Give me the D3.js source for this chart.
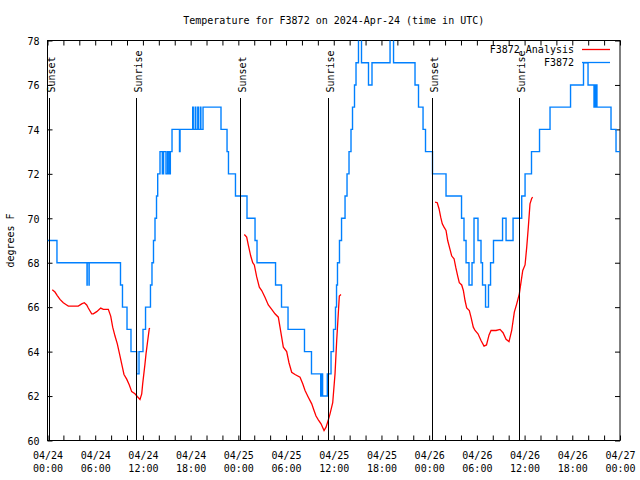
<!DOCTYPE html>
<html><head><meta charset="utf-8">
<script src="https://cdn.jsdelivr.net/npm/d3@7"></script>
<style>
body{margin:0;background:#fff}
svg text{font-family:"DejaVu Sans Mono","Liberation Mono",monospace;font-size:10px;fill:#000}
</style>
</head><body>
<svg id="chart" width="640" height="480"></svg>
<script>
// ---------------- data ----------------
const titleText = "Temperature for F3872 on 2024-Apr-24 (time in UTC)";
const yLabel = "degrees F";
const startTime = "2024-04-24T00:00:00Z";
const endTime = "2024-04-27T00:00:00Z";
const yTicks = [60, 62, 64, 66, 68, 70, 72, 74, 76, 78];
const seriesNames = ["F3872 Analysis", "F3872"];

// observations (hours since 04/24 00:00 UTC, value holds until next point)
const obsHours = [0.0, 1.19, 4.97, 4.99, 5.22, 5.24, 9.18, 9.43, 10.0, 10.5, 11.22, 11.51, 12.01, 12.33, 12.95, 13.14, 13.33, 13.52, 13.71, 13.86,
  14.15, 14.44, 14.60, 14.90, 15.10, 15.28, 15.45, 15.66, 16.60, 16.67, 18.26, 18.33, 18.58, 18.65, 18.90, 18.97, 19.22, 19.29, 19.56,
  21.82, 22.58, 22.76, 23.64,
  25.09, 26.10, 26.35, 28.68, 29.43, 30.25, 32.32, 33.20, 34.36, 34.43, 34.60, 35.19, 35.66, 35.97, 36.22, 36.35, 36.47, 36.72, 36.98,
  37.42, 37.67, 37.92, 38.17, 38.36, 38.61, 38.80, 39.11, 39.49, 40.37, 40.81, 43.08, 43.52, 46.22, 46.66, 47.23, 47.54, 48.42,
  50.12, 52.07, 52.38, 52.64, 53.01, 53.39, 53.64, 54.14, 54.52, 54.71, 55.09, 55.46, 55.72, 56.09, 57.23, 57.67, 58.55, 59.64,
  60.06, 60.87, 61.88, 63.20, 65.78, 67.41, 67.98, 68.73, 68.76, 68.92, 68.95, 69.10, 70.87, 71.50, 72.0];
const obsTemps = [69, 68, 67, 68, 67, 68, 67, 66, 65, 64, 63, 64, 65, 66, 67, 68, 69, 70, 71, 72,
  73, 72, 73, 72, 73, 72, 73, 74, 73, 74, 75, 74, 75, 74, 75, 74, 75, 74, 75,
  74, 73, 72, 71,
  70, 69, 68, 67, 66, 65, 64, 63, 62, 63, 62, 63, 64, 65, 66, 67, 68, 69, 70,
  71, 72, 73, 74, 75, 76, 77, 79, 77, 76, 77, 79, 77, 76, 75, 74, 73, 72,
  71, 70, 69, 68, 67, 68, 70, 69, 68, 67, 66, 67, 68, 69, 70, 69, 70, 71,
  72, 73, 74, 75, 76, 77, 76, 75, 76, 75, 76, 75, 74, 73, 73];

// analysis (null = gap)
const anaHours = [0.60, 0.94, 1.23, 1.57, 1.99, 2.41, 2.62, 3.87, 4.30, 4.63, 4.93, 5.13, 5.56, 5.76, 6.19, 6.69, 7.02, 7.65, 7.95, 8.20,
  8.49, 8.78, 9.12, 9.33, 9.62, 9.96, 10.29, 10.59, 11.0, 11.29, 11.63, 11.85, 11.97, 12.26, 12.39, 12.55, 12.80, 12.89,
  20.0,
  24.75, 25.05, 25.25, 25.56, 25.81, 26.01, 26.31, 26.64, 26.94, 27.35, 27.77, 28.20, 28.61, 29.03, 29.24, 29.45, 29.66, 30.08, 30.37,
  30.71, 31.13, 31.76, 32.10, 32.39, 32.80, 33.23, 33.52, 33.77, 34.06, 34.40, 34.78, 35.03, 35.32, 35.53, 35.87, 36.16, 36.37, 36.57,
  36.70, 36.91,
  44.0,
  48.74, 49.02, 49.24, 49.45, 49.65, 49.87, 50.12, 50.33, 50.62, 50.84, 51.13, 51.34, 51.59, 51.79, 52.09, 52.30, 52.51, 52.72, 53.05,
  53.26, 53.55, 53.77, 54.14, 54.52, 54.90, 55.21, 55.53, 55.78, 56.41, 56.91, 57.29, 57.67, 58.04, 58.38, 58.71, 59.01, 59.34, 59.52,
  59.77, 60.06, 60.27, 60.47, 60.68, 60.90, 61.02];
const anaTemps = [66.78, 66.68, 66.52, 66.35, 66.2, 66.1, 66.05, 66.05, 66.15, 66.2, 66.1, 65.96, 65.7, 65.7, 65.8, 65.96, 65.9, 65.9, 65.6, 65.1,
  64.7, 64.35, 63.8, 63.45, 62.97, 62.76, 62.5, 62.2, 62.1, 61.98, 61.85, 62.1, 62.55, 63.45, 63.9, 64.35, 65.03, 65.05,
  null,
  69.27, 69.15, 68.8, 68.3, 68.0, 67.9, 67.36, 66.9, 66.75, 66.45, 66.1, 65.9, 65.7, 65.55, 65.1, 64.65, 64.2, 64.0, 63.5,
  63.07, 62.97, 62.85, 62.55, 62.25, 61.95, 61.65, 61.35, 61.1, 60.93, 60.75, 60.45, 60.6, 60.93, 61.2, 61.7, 63.0, 64.5, 65.7,
  66.5, 66.57,
  null,
  70.73, 70.7, 70.43, 70.05, 69.75, 69.6, 69.45, 69.0, 68.6, 68.3, 68.18, 67.8, 67.4, 67.1, 67.0, 66.75, 66.3, 65.97, 65.85,
  65.55, 65.1, 64.95, 64.8, 64.5, 64.25, 64.3, 64.75, 64.95, 64.95, 65.0, 64.85, 64.55, 64.45, 64.95, 65.78, 66.15, 66.6, 67.05,
  67.65, 67.9, 68.7, 69.6, 70.65, 70.9, 70.95];

const sunHours = [0.19, 11.17, 24.21, 35.28, 48.36, 59.30];
const sunLabels = ["Sunset", "Sunrise", "Sunset", "Sunrise", "Sunset", "Sunrise"];

// ---------------- drawing ----------------
const svg = d3.select("#chart");
const L = 47.5, R = 620, T = 40.5, B = 440.5;
const t0 = new Date(startTime), t1 = new Date(endTime);
const toDate = h => new Date(t0.getTime() + h * 3600e3);

const x = d3.scaleUtc().domain([t0, t1]).range([L, R]);
const y = d3.scaleLinear().domain([60, 78]).range([B, T]);

svg.append("rect").attr("width", 640).attr("height", 480).attr("fill", "#fff");

svg.append("defs").append("clipPath").attr("id", "clip")
  .append("rect").attr("x", L).attr("y", T).attr("width", R - L).attr("height", B - T);

const minorTicks = d3.utcHour.every(2).range(t0, new Date(t1.getTime() + 1));
const fmtD = d3.utcFormat("%m/%d"), fmtH = d3.utcFormat("%H:%M");

// bottom axis
const gB = svg.append("g").attr("transform", `translate(0,${B})`)
  .call(d3.axisBottom(x).tickValues(minorTicks).tickSizeInner(-5).tickSizeOuter(0).tickFormat(""));
gB.select(".domain").remove();
gB.selectAll(".tick").each(function(d) {
  if (d.getUTCHours() % 6 !== 0) return;
  const t = d3.select(this).select("text").attr("y", 0).attr("dy", null).attr("text-anchor", "middle");
  t.append("tspan").attr("x", 0).attr("y", 18.5).text(fmtD(d));
  t.append("tspan").attr("x", 0).attr("y", 31).text(fmtH(d));
});
// top axis
const gT = svg.append("g").attr("transform", `translate(0,${T})`)
  .call(d3.axisTop(x).tickValues(minorTicks).tickSizeInner(-5).tickSizeOuter(0).tickFormat(""));
gT.select(".domain").remove();
// left axis
const gL = svg.append("g").attr("transform", `translate(${L},0)`)
  .call(d3.axisLeft(y).tickValues(yTicks).tickSizeInner(-5).tickSizeOuter(0).tickPadding(8).tickFormat(d3.format("d")));
gL.select(".domain").remove();
gL.selectAll("text").attr("dy", "0.38em").attr("font-size", "10px");
// right axis
const gR = svg.append("g").attr("transform", `translate(${R},0)`)
  .call(d3.axisRight(y).tickValues(yTicks).tickSizeInner(-5).tickSizeOuter(0).tickFormat(""));
gR.select(".domain").remove();
svg.selectAll(".tick line").attr("stroke", "#000");
svg.selectAll(".tick text").attr("fill", "#000").attr("font-family", null);

// border
svg.append("rect").attr("x", L).attr("y", T).attr("width", R - L).attr("height", B - T)
  .attr("fill", "none").attr("stroke", "#000").attr("stroke-width", 1);

// series
const plot = svg.append("g").attr("clip-path", "url(#clip)");
const ana = anaHours.map((h, i) => ({t: toDate(h), v: anaTemps[i]}));
const obs = obsHours.map((h, i) => ({t: toDate(h), v: obsTemps[i]}));

plot.append("path").datum(ana)
  .attr("d", d3.line().defined(d => d.v !== null).x(d => x(d.t)).y(d => y(d.v)))
  .attr("fill", "none").attr("stroke", "#ff0000").attr("stroke-width", 1.3);
plot.append("path").datum(obs)
  .attr("d", d3.line().curve(d3.curveStepAfter).x(d => x(d.t)).y(d => y(d.v)))
  .attr("fill", "none").attr("stroke", "#0080ff").attr("stroke-width", 1.4);

// sunrise / sunset markers
sunHours.forEach((h, i) => {
  const sx = Math.round(x(toDate(h))) + 0.5;
  svg.append("line").attr("x1", sx).attr("x2", sx).attr("y1", 98).attr("y2", B)
    .attr("stroke", "#000").attr("stroke-width", 1);
  svg.append("text").attr("transform", `translate(${sx + 5},92.5) rotate(-90)`)
    .attr("text-anchor", "start").text(sunLabels[i]);
});

// title and y label
svg.append("text").attr("x", (L + R) / 2).attr("y", 24).attr("text-anchor", "middle").text(titleText);
svg.append("text").attr("transform", `translate(14,${(T + B) / 2}) rotate(-90)`)
  .attr("text-anchor", "middle").text(yLabel);

// legend
const legColors = ["#ff0000", "#0080ff"];
seriesNames.forEach((name, i) => {
  const ly = 49.5 + i * 13;
  svg.append("text").attr("x", 574).attr("y", ly).attr("dy", "0.35em").attr("text-anchor", "end").text(name);
  svg.append("line").attr("x1", 582).attr("x2", 610).attr("y1", ly).attr("y2", ly)
    .attr("stroke", legColors[i]).attr("stroke-width", 1.3);
});
</script>
</body></html>
